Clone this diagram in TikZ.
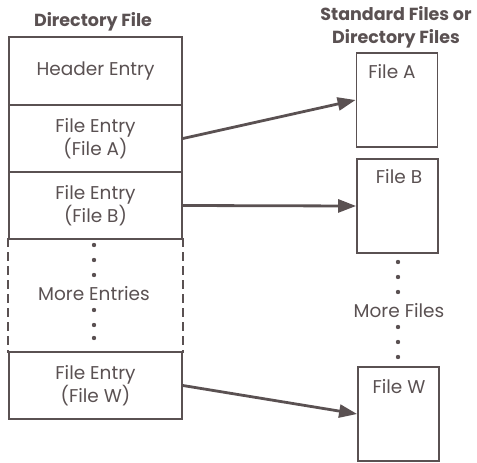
\documentclass[tikz,border=0pt]{standalone}
\usepackage{fontspec}
\setmainfont{Poppins}
\usetikzlibrary{arrows.meta}
\definecolor{ink}{HTML}{5A5152}
\tikzset{
  ent/.style={draw=ink, line width=1.8pt, minimum width=173pt, inner sep=0pt, align=center, text=ink, font=\fontsize{18.5}{22}\selectfont},
  fbox/.style={draw=ink, line width=1.8pt, minimum width=81pt, minimum height=94pt, inner sep=0pt},
  lbl/.style={text=ink, font=\fontsize{18.5}{20}\selectfont, inner sep=0pt},
  ttl/.style={text=ink, font=\bfseries\fontsize{17.5}{23}\selectfont, align=center, inner sep=0pt},
  arr/.style={draw=ink, line width=2.8pt, -{Triangle[length=18pt,width=13pt]}},
  dot/.style={fill=ink, draw=none}
}
\begin{document}
\begin{tikzpicture}[x=1pt,y=-1pt]
\useasboundingbox (0,0) rectangle (477,463);
% left column
\node[ttl] (t1) at (93,22) {Directory File};
\node[ent, minimum height=68pt] (hd) at (95.5,71) {Header Entry};
\node[ent, minimum height=67pt] (ea) at (95.5,138.5) {File Entry\\(File A)};
\node[ent, minimum height=67pt] (eb) at (95.5,205.5) {File Entry\\(File B)};
\node[ent, draw=none, minimum height=113pt] (em) at (95.5,295.5) {};
\node[lbl] (mt) at (94,294) {More Entries};
\node[ent, minimum height=67pt] (ew) at (95.5,385.5) {File Entry\\(File  W)};
\draw[ink, line width=1.8pt, dash pattern=on 9pt off 5pt] (em.north west) -- (em.south west);
\draw[ink, line width=1.8pt, dash pattern=on 9pt off 5pt] (em.north east) -- (em.south east);
\foreach \y in {245,260,275,310,325,338} \fill[dot] (94,\y) circle (2.2pt);
% right column
\node[ttl] (t2) at (396,27) {Standard Files or\\Directory Files};
\node[fbox] (fa) at (397,100) {};
\node[fbox] (fb) at (397.5,206) {};
\node[fbox] (fw) at (398.5,414) {};
\node[lbl] (la) at (392,72) {File A};
\node[lbl] (lb) at (399,177) {File B};
\node[lbl] (lw) at (399,387) {File W};
\node[lbl] (mf) at (399,311) {More Files};
\foreach \y in {262,277,292,327,342,357} \fill[dot] (398,\y) circle (2.2pt);
% arrows
\draw[arr] (ea.east) -- (fa.west);
\draw[arr] (eb.east) -- (fb.west);
\draw[arr] (ew.east) -- (fw.west);
\end{tikzpicture}
\end{document}
